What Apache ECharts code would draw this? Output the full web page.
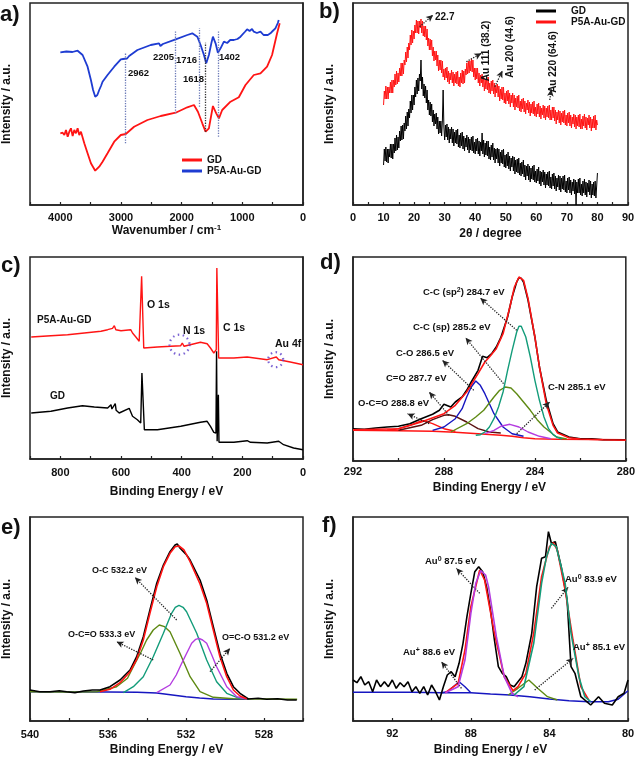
<!DOCTYPE html>
<html><head><meta charset="utf-8">
<script src="https://cdn.jsdelivr.net/npm/echarts@6/dist/echarts.min.js"></script>
<style>html,body{margin:0;padding:0;background:#fff}#c{width:638px;height:761px}</style>
</head><body><div id="c"></div>
<script>
const FONT = '"Liberation Sans", Arial, sans-serif';

// ---------- a) FTIR ----------
const ftirGD = [[4000,71.7],[3962,72.3],[3934,70],[3907,75],[3879,68.3],[3852,73.3],[3825,76.7],[3797,69],[3770,75],[3742,71.7],[3715,76.7],[3688,70],[3660,73.3],[3605,61.7],[3551,51.7],[3496,41.7],[3425,34.3],[3359,38.3],[3304,43.3],[3222,51.7],[3112,63.3],[3003,70],[2921,71],[2784,78.3],[2564,85],[2345,89],[2099,92.3],[1907,97.7],[1797,100],[1732,93.3],[1660,81.7],[1606,73.3],[1551,76.7],[1485,99],[1430,91.7],[1386,86.7],[1332,95],[1195,103.3],[1058,107.7],[948,120],[811,130],[701,131.7],[592,138.3],[510,150],[427,171.7],[384,181.7]];
const ftirP5A = [[4000,152.7],[3900,153.5],[3800,153],[3715,154.3],[3633,150],[3551,138.3],[3496,125],[3460,115],[3425,108.3],[3390,110],[3359,115],[3330,119],[3304,123.3],[3222,130],[3112,138.3],[3003,145.7],[2965,146],[2937,144.3],[2900,146.5],[2866,149],[2729,155],[2510,160],[2373,161.7],[2350,159],[2334,158],[2310,161],[2290,162.3],[2099,165.7],[1907,170],[1825,171.7],[1742,168.3],[1688,160],[1633,150],[1595,141.7],[1551,150],[1510,162],[1485,168.3],[1441,161.7],[1403,152.3],[1359,156.7],[1304,163.3],[1250,162],[1200,165],[1140,165],[1080,166],[1030,168.3],[960,173],[921,175.7],[880,174],[840,176],[811,173.3],[760,172],[701,173.3],[650,170],[619,169],[580,170],[537,171.7],[500,174],[455,176.7],[430,178],[415,182],[400,185]];
const ftirMarkX = [2937, 2100, 1704, 1616, 1397];
const ftirMarkTop = [151.7, 174.3, 176.7, 162.3, 174.3];
const ftirMarkBottom = [61.7, 91.7, 98.3, 73.3, 68.3];
const ftirMarkLabels = ['2962', '2205', '1716', '1618', '1402'];

// ---------- b) XRD (sampled every 0.25 degree from 10 to 80) ----------
const xrdStart = 10, xrdStep = 0.25;
const xrdP5A = [
100,114,106,119, 106,118,106,118, 112,123,112,125, 112,125,118,131, 120,134,121,132,
123,137,129,142, 129,142,131,145, 140,153,143,158, 147,162,155,170, 160,175,162,174,
166,180,172,185, 172,184,171,184, 177,186,172,184, 169,179,168,179, 165,176,159,167,
155,166,155,165, 149,158,144,154, 145,154,139,150, 134,145,135,145, 132,144,128,136,
125,137,127,138, 123,134,121,132, 125,135,122,133, 119,131,122,133, 121,134,119,128,
118,132,122,135, 121,134,122,136, 130,142,131,144, 132,144,134,146, 133,145,128,137,
125,137,126,137, 122,132,119,130, 122,131,118,129, 114,126,116,128, 115,128,112,122,
111,124,114,125, 111,122,108,120, 112,121,108,119, 104,116,106,118, 105,118,102,112,
101,114,104,115, 101,112,98,110, 102,112,98,110, 95,107,98,109, 97,110,94,104,
93,106,96,107, 93,104,91,102, 95,105,92,103, 89,101,92,103, 91,104,89,98,
88,101,91,102, 88,99,86,97, 90,100,87,99, 85,97,88,99, 87,100,85,95,
85,98,87,98, 84,95,81,93, 85,95,82,94, 80,92,83,94, 82,95,80,90,
79,92,82,93, 79,90,77,88, 81,91,78,90, 76,88,79,90, 78,91,76,86,
76,89,79,91, 77,88,75,87, 80,90,77,88, 74,86,77,89, 77,90,75,85,
80];
const xrdGD = [
40,56,44,58, 43,56,42,56, 48,61,47,61, 46,61,52,67, 54,70,55,68,
57,74,64,79, 65,80,66,82, 74,89,76,93, 79,96,87,104, 92,110,95,110,
100,118,108,125, 111,127,114,131, 124,145,116,128, 109,121,107,119, 102,115,95,105,
90,103,89,101, 83,95,79,91, 81,92,76,88, 71,84,72,84, 69,84,115,78,
65,80,68,81, 65,78,62,76, 66,78,62,76, 59,73,62,75, 61,76,58,70,
57,72,59,73, 56,69,54,67, 58,70,55,68, 52,66,55,68, 54,69,52,63,
51,66,54,67, 51,64,49,63, 54,72,51,65, 48,62,50,64, 49,64,46,58,
45,60,48,62, 45,57,42,56, 46,57,42,56, 39,53,42,55, 41,56,38,50,
37,51,39,53, 36,49,34,47, 38,49,34,48, 31,45,33,46, 32,47,30,42,
29,43,31,45, 28,40,25,39, 29,41,25,39, 23,37,26,39, 25,40,23,34,
22,36,24,38, 21,34,19,33, 23,35,20,33, 17,31,20,33, 19,34,17,28,
16,31,19,32, 16,29,14,27, 18,30,15,29, 13,27,16,29, 15,30,13,24,
12,27,15,28, 12,25,10,23, 14,26,11,25, 0,23,12,26, 12,27,10,21,
9,24,12,26, 10,23,8,22, 13,25,10,24, 7,21,10,23, 9,24,7,19,
32];
const xrdArrows = [[21.8,178.3,26.2,190],[37.1,143.3,42.0,151.7],[46.4,118.3,48.9,134.3],[64.4,105,64.9,115.7]];

// ---------- c) XPS survey ----------
const surveyP5A = [[896,122],[831,123.3],[776,124.3],[721,126],[666,127.7],[644,129.3],[628,130.7],[622,133.3],[617,129.3],[600,128.3],[568,129.3],[562,126],[551,122],[540,117.7],[535,119.3],[532,182.7],[528,182.7],[525,111],[480,112],[436,112.7],[403,113.3],[398,116],[392,112.7],[338,116.7],[316,115.3],[305,111],[294,106],[286,109.3],[284,191],[282,191],[278,101],[228,101],[184,102],[179,100],[118,99.3],[88,102],[80,99.3],[42,97],[0,94.3]];
const surveyGD = [[896,46],[831,47.7],[776,51],[727,53.3],[688,52],[644,51],[633,54.3],[630,50],[625,49.3],[619,55.3],[616,48.7],[606,46],[573,50.7],[562,42.7],[546,39.3],[535,36],[531,86],[527,86],[523,29.3],[480,29.3],[403,32.7],[338,36.7],[316,37.7],[305,32.7],[294,26.7],[287,26],[285,107.7],[283,17.7],[279,64.3],[277,16.7],[228,16.7],[184,18.3],[173,16.7],[118,16],[80,17.7],[64,14.3],[31,11],[0,9.3]];
const surveyCircles = [[407,114.3,20],[90,99.3,15]];

// ---------- d) C 1s ----------
const c1sRaw = [[292,32.3],[291.5,31.7],[291,33],[290.5,34],[290,34.7],[289.5,37.3],[289,42.3],[288.5,46.7],[288.2,50.7],[288,56.7],[287.7,54],[287.5,59],[287.2,64],[287,70.7],[286.8,79],[286.5,90.7],[286.3,104.7],[286.1,103.3],[285.9,107.3],[285.7,114],[285.5,123.3],[285.2,144],[285,164],[284.8,179],[284.7,183.3],[284.6,182.7],[284.5,179],[284.3,160.7],[284,124],[283.8,94],[283.5,60.7],[283.2,37.3],[283,29],[282.5,24],[282,22.3],[281.5,22.3],[281,21.3],[280.5,21.3],[280,20.7]];
const c1sFit = [[292,31.3],[290,32.3],[289,39],[288,47.3],[287.5,55.7],[287,69],[286.5,87.3],[286.2,99],[286,104],[285.7,112.3],[285.4,127.3],[285.1,154],[284.9,174],[284.7,184],[284.5,180.7],[284.3,162.3],[284,124],[283.8,94],[283.5,57.3],[283.2,35.7],[283,28],[282.5,23.3],[282,22],[281,21.3],[280,20.7]];
const c1sBase = [[292,30.7],[290,30.3],[288.5,29.7],[287.5,28.7],[286.5,27.3],[285.5,25.7],[285,24.7],[284.5,23.3],[284,22.3],[283,21.7],[280,21.3]];
const c1sSp2 = [[286.6,25.7],[286.4,26.3],[286.2,29],[286,34],[285.8,42.3],[285.6,54],[285.4,69],[285.2,90.7],[285,110.7],[284.8,129],[284.7,134.7],[284.6,134.7],[284.4,124],[284.2,104],[284,80.7],[283.8,60.7],[283.6,44],[283.4,32.3],[283.2,26.3],[283,23.3],[282.8,22]];
const c1sSp = [[287.7,29],[287,37.3],[286.6,44],[286.25,50.7],[285.8,64],[285.55,70.7],[285.3,74],[285.05,73],[284.8,67.3],[284.5,59],[284.2,50.7],[283.9,41.3],[283.6,34],[283.05,24],[282.6,22]];
const c1sCO = [[288.5,30.7],[288,34],[287.5,42.3],[287.2,52.3],[287,64],[286.8,74],[286.6,80],[286.4,75.7],[286.2,67.3],[286,57.3],[285.8,47.3],[285.4,34],[285,27.3],[284.5,24.7]];
const c1sCeqO = [[290,30.7],[289,35.7],[288.5,41.3],[288,45.7],[287.8,46.3],[287.5,44.7],[287,39],[286.5,32.3],[286,29],[285.5,28]];
const c1sOCO = [[290.5,30.7],[290,32.3],[289.5,35.7],[289,40],[288.9,40.3],[288.5,37.3],[288,32.3],[287.5,29.7]];
const c1sCN = [[286.2,27.3],[285.8,30.7],[285.5,34.7],[285.1,36.7],[284.7,34],[284.3,29],[283.8,24.7],[283.3,22.3]];
const c1sArrows = [[284.8,130.7,286.4,163],[285.38,77.3,287.05,123.3],[286.69,70.7,288.07,100.7],[287.78,45.7,288.65,69],[288.65,37.3,289.6,47.3],[284.8,27.3,283.35,59]];

// ---------- e) O 1s ----------
const o1sRaw = [[540,31],[539.5,29.3],[538.97,29.3],[538.5,30.3],[538.12,29.3],[537.7,28.3],[537.26,30],[536.8,31],[536.41,31],[535.9,34.3],[535.38,41],[534.87,51],[534.53,64.3],[534.19,84.3],[533.85,111],[533.5,137.7],[533.16,156],[532.82,169.3],[532.56,176],[532.45,177],[532.3,172.7],[532.2,174.3],[531.97,166],[531.79,161],[531.28,141],[530.94,121],[530.6,94.3],[530.26,67.7],[529.91,47.7],[529.57,34.3],[529.23,27.7],[528.8,22],[528.3,22.7],[527.86,21.7],[527.3,22.3],[526.8,21],[526.32,21]];
const o1sFit = [[536.41,29.3],[535.9,31.7],[535.38,38.3],[534.87,49.3],[534.53,61.7],[534.19,81],[533.85,107.7],[533.5,134.3],[533.16,154.3],[532.82,167.7],[532.56,174.3],[532.36,175],[532.1,171],[531.79,159.3],[531.28,137],[530.94,117.7],[530.6,91],[530.26,64.3],[529.91,44.3],[529.57,31],[529.23,25],[528.89,22.3]];
const o1sBase = [[540,29.3],[536,29],[534.5,28.7],[533.5,28],[532.8,26.3],[532,24.3],[531.3,23],[530.6,22],[529.5,21.7],[528.8,21.7]];
const o1sOC = [[535.21,28.3],[534.7,34.3],[534.19,44.3],[533.68,64.3],[533.16,87.7],[532.74,107.7],[532.55,113.7],[532.36,115.7],[532.15,113.7],[531.97,109.3],[531.45,87.7],[530.94,61],[530.43,39.3],[529.91,27.7],[529.23,22.3]];
const o1sOCeqO = [[540,29.3],[538,29],[536.58,29.3],[535.56,34.3],[535,42.7],[534.7,54.3],[534.3,69.3],[534.02,81],[533.68,91],[533.37,96],[533.1,94.3],[532.82,89.3],[532.31,67.7],[531.79,44.3],[531.28,29.3],[530.6,23.7],[529.57,22.3],[528,22],[526.3,21.7]];
const o1sOeqCO = [[533.5,28.3],[532.82,36],[532.5,46],[532.22,57.7],[531.71,77.7],[531.5,81.7],[531.33,82.7],[531.15,81],[530.94,77.7],[530.7,67],[530.43,54.3],[529.91,34.3],[529.4,24.3],[528.89,22]];
const o1sArrows = [[532.48,101,534.62,143.7],[533.68,61,535.56,79.3],[530.77,49.3,529.74,72.7]];

// ---------- f) Au 4f ----------
const au4fRaw = [[94,41],[93.8,38.3],[93.6,44.3],[93.4,36],[93.2,39.3],[93,29.3],[92.8,41],[92.6,34.3],[92.4,39.3],[92.2,34.3],[92,41],[91.8,32.7],[91.6,38.3],[91.4,34.3],[91.2,39.3],[91,29.3],[90.8,34.3],[90.6,27.7],[90.4,34.3],[90.2,26],[90,36],[89.8,29.3],[89.6,21],[89.4,34.3],[89.2,46],[89,49.3],[88.8,44.3],[88.6,57.7],[88.4,77.7],[88.2,104.3],[88,127.7],[87.8,149.3],[87.6,154.3],[87.4,149.3],[87.2,134.3],[87,111],[86.8,81],[86.6,54.3],[86.4,47.7],[86.2,44.3],[86,36],[85.8,34.3],[85.6,39.3],[85.4,44.3],[85.2,57.7],[84.9,87.7],[84.65,134.3],[84.4,162.7],[84.2,164.3],[84.05,189.3],[83.9,177.7],[83.7,179.3],[83.4,154.3],[83.1,121],[82.9,54.3],[82.7,47.7],[82.4,24.3],[81.9,16],[81.8,14.3],[81.5,24.3],[81.2,17.7],[80.8,16],[80.5,24.3],[80.2,27.7],[80,41]];
const au4fFit = [[89.3,28.3],[88.65,37.7],[88.3,71],[88,114.3],[87.55,151],[87.3,141],[86.8,87.7],[86.3,44.3],[85.85,30.3],[85.6,34.3],[85.2,47.7],[84.8,87.7],[84.4,144.3],[84,174.3],[83.8,178.3],[83.6,171],[83.2,131],[82.8,81],[82.4,34.3],[82,21]];
const au4fBase = [[94,28.7],[91,28.7],[89.5,28.3],[88,28.3],[87,27],[86,26],[85,24.3],[84,22],[83,20.3],[82,19.3],[81,19.3],[80.5,21.7],[80,30.3]];
const au4fAuP886 = [[89.5,28.3],[89.2,29.3],[88.9,34.3],[88.6,39.3],[88.3,34.3],[88,28.3]];
const au4fAu0875 = [[89.3,28.3],[88.65,34.3],[88.3,61],[88,107.7],[87.75,137.7],[87.5,150.3],[87.25,146],[87.1,134.3],[86.7,84.3],[86.3,44.3],[85.9,27.7],[85.6,24.3]];
const au4fAu0839 = [[85.8,26],[85.3,34.3],[84.8,77.7],[84.4,137.7],[84.15,164.3],[83.9,177.7],[83.65,174.3],[83.2,137.7],[82.9,87.7],[82.5,44.3],[82.2,24.3],[81.9,19.3]];
const au4fAuP851 = [[86.1,26],[85.6,32.7],[85.05,41],[84.6,32.7],[84.1,24.3],[83.6,21]];
const au4fArrows = [[87.55,127.7,88.74,152.7],[83.9,112.7,83.05,133.7],[84.75,31,82.79,62.7],[88.48,32.7,89.5,59.3]];

// ---------- colours ----------
const RED = '#ff1414', BLUE = '#1e3cd2', BLACK = '#000', TEAL = '#139c7a', OLIVE = '#5f8a14', PURPLE = '#b43ce0', NAVY = '#1616c0', BROWN = '#5a1010';

// ---------- layout ----------
const grids = [
  {left:30, top:3, width:273, height:202},
  {left:353, top:3, width:275, height:202},
  {left:30, top:257, width:273, height:202},
  {left:353, top:257, width:275, height:204},
  {left:30, top:517, width:273, height:204},
  {left:353, top:517, width:275, height:204}
].map(g => Object.assign(g, {show:true, borderColor:'#222', borderWidth:1.5, backgroundColor:'transparent'}));

const axisSpec = [
  {min:0, max:4500, interval:500, mod:1000, inverse:true, name:'{n|Wavenumber / cm}{s|-1}', gap:19, margin:7},
  {min:0, max:90, interval:5, mod:10, inverse:false, name:'{n|2θ / degree}', gap:22, margin:7},
  {min:0, max:900, interval:100, mod:200, inverse:true, name:'{n|Binding Energy / eV}', gap:26, margin:8},
  {min:280, max:292, interval:2, mod:4, inverse:true, name:'{n|Binding Energy / eV}', gap:20, margin:5},
  {min:526, max:540, interval:2, mod:4, inverse:true, name:'{n|Binding Energy / eV}', gap:22, margin:8},
  {min:80, max:94, interval:2, mod:4, inverse:true, name:'{n|Binding Energy / eV}', gap:22, margin:7}
];
const yMax = [202, 202, 202, 204, 204, 204];

const xAxis = axisSpec.map((s, i) => ({
  type:'value', gridIndex:i, min:s.min, max:s.max, interval:s.interval, inverse:s.inverse,
  name:s.name, nameLocation:'middle', nameGap:s.gap,
  nameTextStyle:{rich:{
    n:{fontSize:12, fontWeight:'bold', fontFamily:FONT, color:'#111', lineHeight:14},
    s:{fontSize:8, fontWeight:'bold', fontFamily:FONT, color:'#111', verticalAlign:'top', lineHeight:8}
  }},
  axisLine:{show:true, lineStyle:{color:'#222', width:1.5}},
  axisTick:{show:true, inside:true, length:3, lineStyle:{color:'#222', width:1.2}},
  axisLabel:{margin:s.margin, fontSize:11, fontWeight:'bold', fontFamily:FONT, color:'#111',
    formatter:v => (Math.round(v) % s.mod === 0 ? String(v) : '')},
  splitLine:{show:false}
}));
const yAxis = yMax.map((m, i) => ({
  type:'value', gridIndex:i, min:0, max:m,
  name:'Intensity / a.u.', nameLocation:'middle', nameGap:17,
  nameTextStyle:{fontSize:12, fontWeight:'bold', fontFamily:FONT, color:'#111'},
  axisLine:{show:true, lineStyle:{color:'#222', width:1.5}},
  axisTick:{show:false}, axisLabel:{show:false}, splitLine:{show:false}
}));

function ln(name, gi, data, color, width, z, extra) {
  return Object.assign({type:'line', name, xAxisIndex:gi, yAxisIndex:gi, data, symbol:'none', showSymbol:false,
    lineStyle:{color, width}, itemStyle:{color}, silent:true, animation:false, z:z||2}, extra || {});
}
function arrowMarks(list) {
  return {silent:true, symbol:['none','arrow'], symbolSize:[5,7], animation:false,
    label:{show:false}, lineStyle:{type:'dotted', color:'#222', width:1.3},
    emphasis:{disabled:true},
    data:list.map(a => [{coord:[a[0], a[1]]}, {coord:[a[2], a[3]]}])};
}

const xrdRed = xrdP5A.map((v, i) => [xrdStart + i * xrdStep, v]);
const xrdBlack = xrdGD.map((v, i) => [xrdStart + i * xrdStep, v]);

const series = [
  // a
  ln('GD', 0, ftirGD, RED, 1.8, 3),
  ln('P5A-Au-GD', 0, ftirP5A, BLUE, 1.8, 3, {markLine:{silent:true, symbol:['none','none'], animation:false, label:{show:false},
    data: ftirMarkX.map((x, i) => [{coord:[x, ftirMarkBottom[i]], lineStyle:{type:'dotted', width:1.3, color: i === 3 ? '#333' : '#6c7bb8'}}, {coord:[x, ftirMarkTop[i]]}])}}),
  // b
  ln('GD#b', 1, xrdBlack, BLACK, 1, 2),
  ln('P5A-Au-GD#b', 1, xrdRed, RED, 1, 3, {markLine:arrowMarks(xrdArrows)}),
  // c
  ln('surveyGD', 2, surveyGD, BLACK, 1.4, 2),
  ln('surveyP5A', 2, surveyP5A, RED, 1.4, 3),
  {type:'scatter', xAxisIndex:2, yAxisIndex:2, silent:true, animation:false, z:5,
    data: surveyCircles.map(c => ({value:[c[0], c[1]], symbolSize:c[2]})),
    symbol:'circle', itemStyle:{color:'rgba(0,0,0,0)', borderColor:'#5a3cc8', borderWidth:2.2, borderType:[1.5,3.5]}},
  // d
  ln('c1sBase', 3, c1sBase, RED, 1.4, 2),
  ln('c1sOCO', 3, c1sOCO, RED, 1.4, 2),
  ln('c1sCeqO', 3, c1sCeqO, BROWN, 1.4, 2),
  ln('c1sCO', 3, c1sCO, NAVY, 1.4, 2),
  ln('c1sSp', 3, c1sSp, OLIVE, 1.4, 2),
  ln('c1sCN', 3, c1sCN, PURPLE, 1.4, 2),
  ln('c1sSp2', 3, c1sSp2, TEAL, 1.4, 2),
  ln('c1sRaw', 3, c1sRaw, BLACK, 1.6, 3),
  ln('c1sFit', 3, c1sFit, RED, 1.6, 4, {markLine:arrowMarks(c1sArrows)}),
  // e
  ln('o1sBase', 4, o1sBase, NAVY, 1.4, 2),
  ln('o1sOCeqO', 4, o1sOCeqO, OLIVE, 1.4, 2),
  ln('o1sOC', 4, o1sOC, TEAL, 1.4, 2),
  ln('o1sOeqCO', 4, o1sOeqCO, PURPLE, 1.4, 2),
  ln('o1sRaw', 4, o1sRaw, BLACK, 1.6, 3),
  ln('o1sFit', 4, o1sFit, RED, 1.6, 4, {markLine:arrowMarks(o1sArrows)}),
  // f
  ln('au4fBase', 5, au4fBase, NAVY, 1.4, 2),
  ln('au4fAuP886', 5, au4fAuP886, NAVY, 1.4, 2),
  ln('au4fAuP851', 5, au4fAuP851, OLIVE, 1.4, 2),
  ln('au4fRaw', 5, au4fRaw, BLACK, 1.6, 3),
  ln('au4fFit', 5, au4fFit, RED, 1.6, 4),
  ln('au4fAu0875', 5, au4fAu0875, PURPLE, 1.6, 5),
  ln('au4fAu0839', 5, au4fAu0839, TEAL, 1.6, 5, {markLine:arrowMarks(au4fArrows)})
];

const legendBase = {orient:'vertical', icon:'rect', itemWidth:20, itemHeight:3, itemGap:1,
  formatter:n => n.split('#')[0], selectedMode:false,
  textStyle:{fontSize:10, fontWeight:'bold', fontFamily:FONT, color:'#111', lineHeight:10}};
const legend = [
  Object.assign({}, legendBase, {left:177, top:150, data:['GD','P5A-Au-GD']}),
  Object.assign({}, legendBase, {left:531, top:1, data:['GD#b','P5A-Au-GD#b'],
    textStyle:Object.assign({}, legendBase.textStyle, {padding:[0,0,0,10]})})
];

function t(x, y, text, size, extra) {
  return Object.assign({type:'text', x, y, silent:true, z:100,
    style:{text, fontSize:size, fontWeight:'bold', fontFamily:FONT, fill:'#111', align:'left', verticalAlign:'middle',
      rich:{sup:{fontSize:Math.round(size*0.7), fontWeight:'bold', fontFamily:FONT, fill:'#111', verticalAlign:'top', lineHeight:size},
            n:{fontSize:size, fontWeight:'bold', fontFamily:FONT, fill:'#111', lineHeight:size+2}}}}, extra || {});
}
function tv(x, y, text) {
  return {type:'text', x, y, rotation:Math.PI/2, silent:true, z:100,
    style:{text, fontSize:10, fontWeight:'bold', fontFamily:FONT, fill:'#111', align:'center', verticalAlign:'middle'}};
}
const ftirLabelPos = [[128,73],[153,57],[176,60],[183,79],[219,57]];
const graphic = [
  t(0, 15, 'a)', 22), t(319, 12, 'b)', 22), t(1, 266, 'c)', 22), t(320, 263, 'd)', 22), t(1, 528, 'e)', 22), t(322, 526, 'f)', 22),
  ...ftirMarkLabels.map((s, i) => t(ftirLabelPos[i][0], ftirLabelPos[i][1], s, 9.5)),
  t(435, 17, '22.7', 10),
  tv(486, 51, 'Au 111 (38.2)'),
  tv(510, 47, 'Au 200 (44.6)'),
  tv(553, 62, 'Au 220 (64.6)'),
  t(37, 320, 'P5A-Au-GD', 10), t(50, 396, 'GD', 10),
  t(147, 305, 'O 1s', 10.5), t(183, 331, 'N 1s', 10.5), t(223, 328, 'C 1s', 10.5), t(275, 344, 'Au 4f', 10.5),
  t(423, 292, '{n|C-C (sp}{sup|2}{n|) 284.7 eV}', 9.5),
  t(413, 327, 'C-C (sp) 285.2 eV', 9.5),
  t(396, 353, 'C-O 286.5 eV', 9.5),
  t(386, 378, 'C=O 287.7 eV', 9.5),
  t(358, 403, 'O-C=O 288.8 eV', 9.5),
  t(548, 387, 'C-N 285.1 eV', 9.5),
  t(92, 571, 'O-C 532.2 eV', 9),
  t(68, 635, 'O-C=O 533.3 eV', 9),
  t(222, 638, 'O=C-O 531.2 eV', 9),
  t(425, 561, '{n|Au}{sup|0}{n| 87.5 eV}', 9.5),
  t(565, 579, '{n|Au}{sup|0}{n| 83.9 eV}', 9.5),
  t(573, 647, '{n|Au}{sup|+}{n| 85.1 eV}', 9.5),
  t(403, 652, '{n|Au}{sup|+}{n| 88.6 eV}', 9.5)
];

const chart = echarts.init(document.getElementById('c'), null, {renderer:'canvas'});
chart.setOption({animation:false, backgroundColor:'#fff', grid:grids, xAxis, yAxis, series, legend, graphic});
</script></body></html>
